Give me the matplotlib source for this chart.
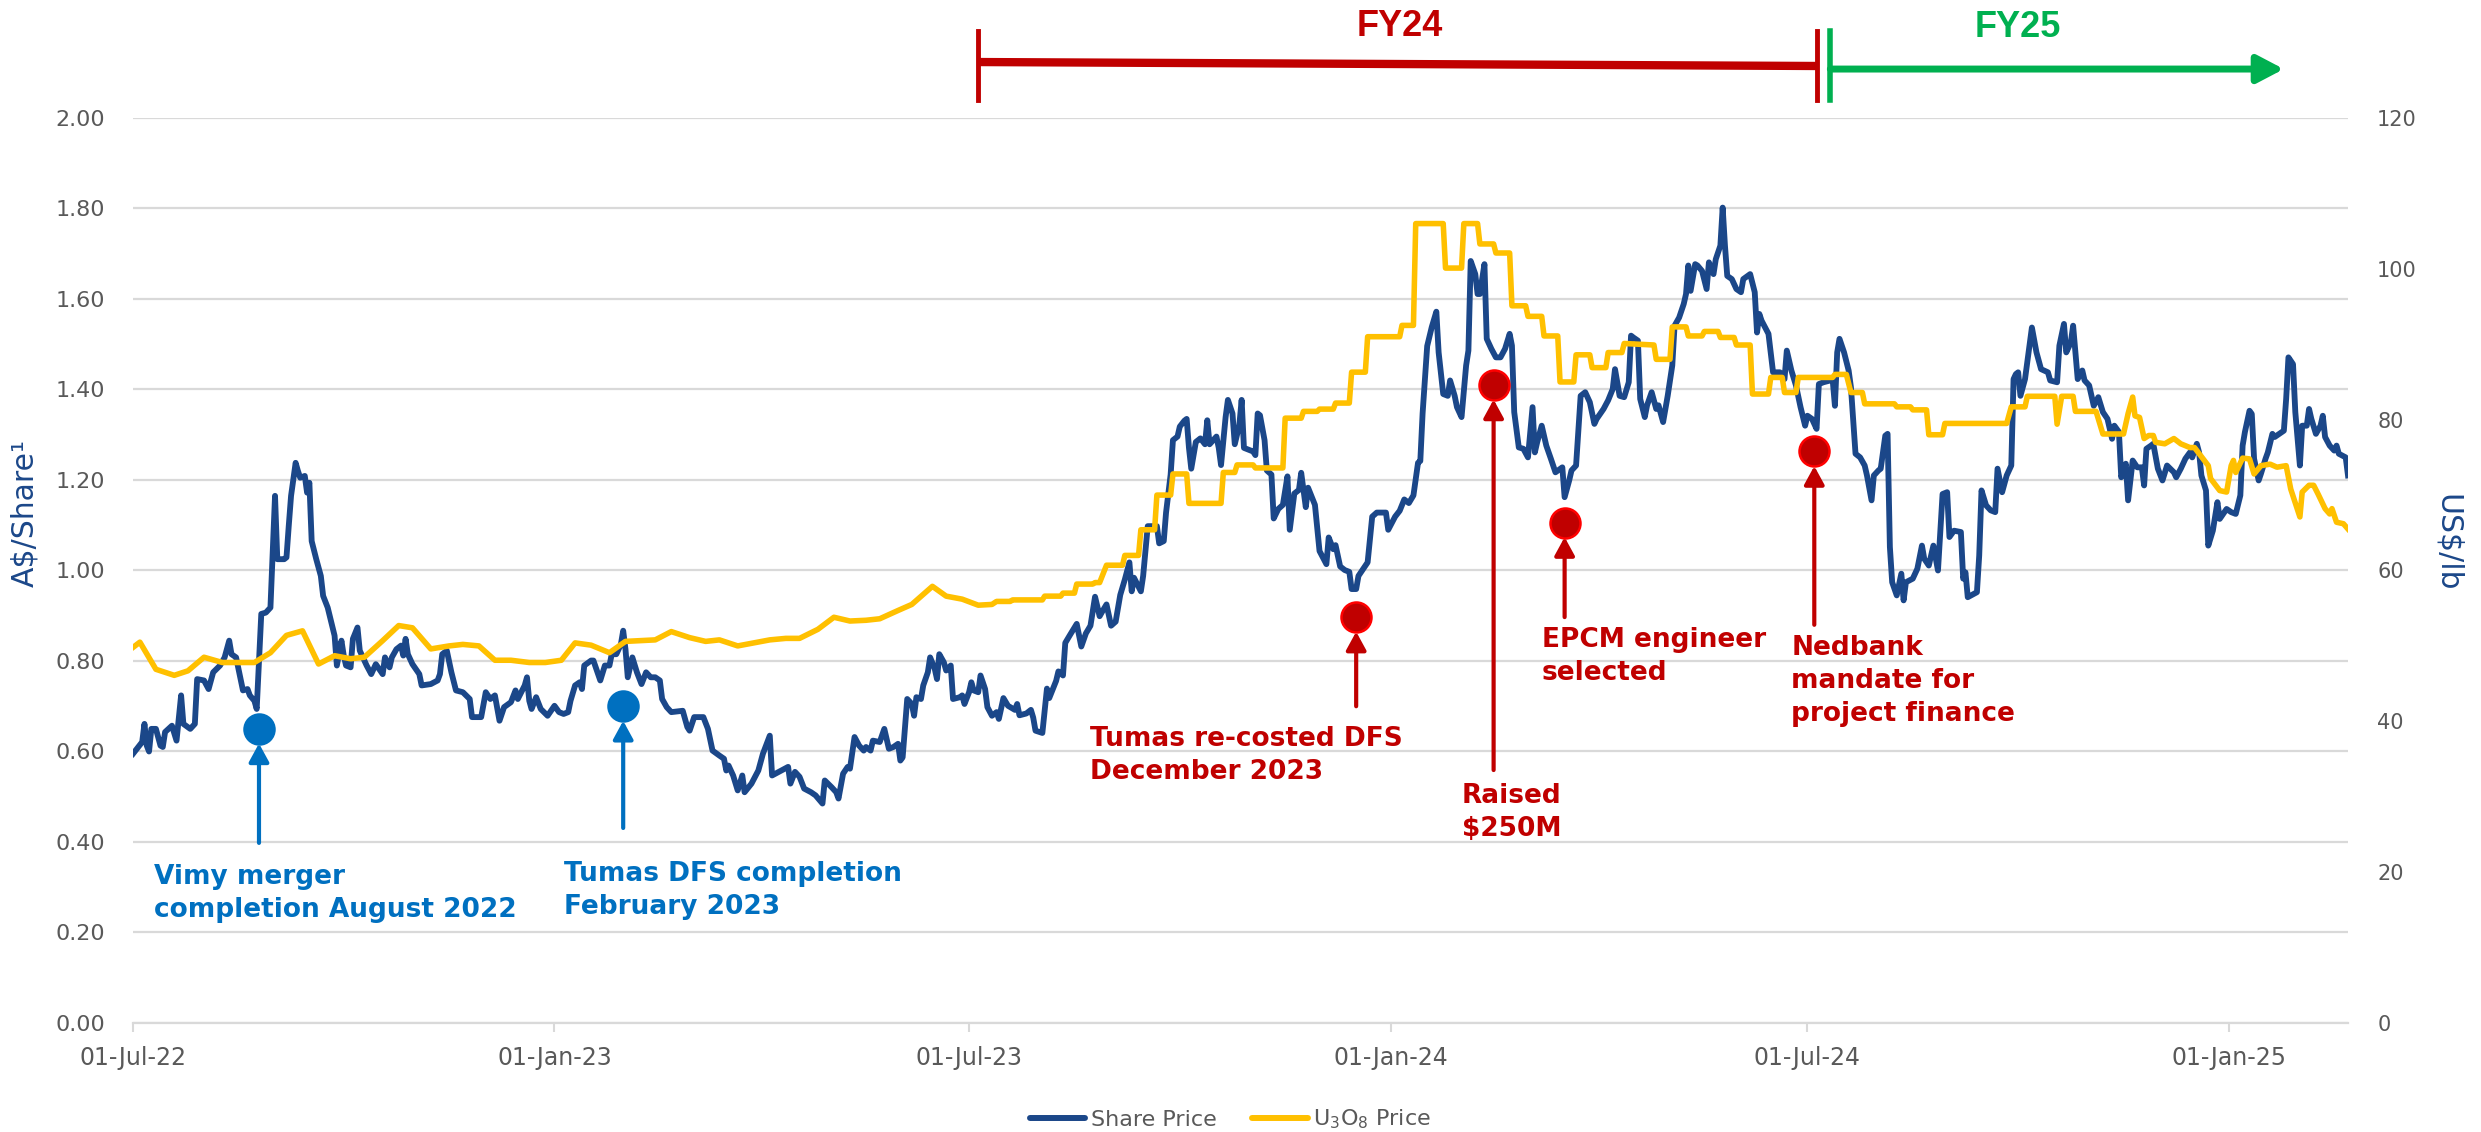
import numpy as np
import pandas as pd
import matplotlib
matplotlib.use("Agg")
import matplotlib.pyplot as plt
import matplotlib.dates as mdates
import matplotlib.transforms as mtransforms
from matplotlib.lines import Line2D

# ---------------- data ----------------
BASE_DATE = "2022-07-01"   # day 0

share_day = [0, 4, 5, 6, 7, 8, 10, 12, 13, 14, 17, 19, 21, 22, 25, 27, 28, 31, 33, 35, 38, 40, 42, 43, 45, 47, 48, 50, 51, 53, 54,
             56, 58, 60, 62, 63, 66, 67, 68, 69, 71, 72, 73, 75, 76, 77, 78, 80, 82, 83, 85, 88, 89, 91, 92, 93, 95, 96, 98, 99,
             101, 102, 104, 106, 109, 110, 112, 113, 115, 117, 118, 119, 120, 122, 125, 126, 130, 133, 134, 135, 137, 139, 141,
             144, 147, 148, 152, 154, 156, 158, 160, 162, 165, 167, 168, 171, 172, 173, 174, 176, 178, 181, 184, 186,
             188, 190, 191, 193, 195, 196, 197, 200, 201, 204, 206, 208, 209, 211, 213, 214, 215, 216, 218, 220, 222, 224, 226,
             228, 230, 231, 233, 235, 240, 242, 243, 245, 249, 251, 253, 256, 258, 259, 260, 262, 264, 266, 267, 270, 273, 275,
             278, 279, 283, 286, 287, 289, 291, 293, 296, 298, 301, 302, 305, 307, 308, 310, 312, 313, 315, 317, 319, 320, 322,
             323, 326, 328, 330, 332, 334, 335, 336, 338, 340, 341, 342, 344, 345, 347, 348, 350, 351, 352, 354, 355, 357, 358,
             361, 362, 363, 365, 366, 367, 369, 370, 372, 373, 375, 377, 378,
             380, 382, 385, 386, 387, 390, 392, 393, 394, 397, 399, 400, 403, 404, 406, 407, 409, 412, 414, 416, 418, 420, 422,
             423, 425, 427, 429, 431, 433, 435, 436, 437, 440, 441, 443, 447, 448, 450, 451, 453, 454, 456, 457, 459, 460, 461,
             462, 464, 466, 468, 469, 470, 473, 474, 475, 477, 478, 480, 481, 483, 484, 485, 487, 489, 490, 491, 492, 494, 495,
             497, 498, 500, 502, 504, 505, 507, 508, 509, 510, 512, 513, 516, 518, 521, 522, 524, 525, 527, 529, 531, 532, 534,
             535, 539, 541, 543, 547, 548, 551, 553, 555, 557, 559, 561, 562, 563, 565, 567, 569,
             570, 572, 574, 575, 577, 578, 580, 582, 583, 584, 586, 587, 588, 590, 591, 593, 595, 597, 599, 601, 602, 603, 605,
             607, 609, 611, 612, 613, 615, 617, 619, 621, 624, 625, 627, 628, 630, 632, 634, 636, 638, 639, 642, 644, 646, 647,
             648, 649, 651, 653, 654, 655, 657, 658, 660, 661, 663, 665, 666, 668, 670, 672, 673, 675, 677, 678, 679, 680, 682,
             683, 685, 687, 688, 690, 691, 693, 694, 695, 696, 698, 700, 702, 703, 706, 708, 709, 710, 711, 714, 716, 719, 721,
             722, 724, 726, 728, 730, 731, 733, 735, 736, 738, 741, 742, 743, 744, 745, 747, 749, 750, 752, 754, 756, 757, 759,
             760, 762, 763,
             765, 766, 767, 768, 770, 772, 773, 774, 777, 779, 781, 782, 784, 786, 788, 790, 792, 793, 795, 798, 799, 800, 801,
             805, 806, 807, 809, 811, 813, 814, 816, 818, 820, 821, 822, 823, 824, 826, 829, 831, 833, 836, 837, 840, 841, 843,
             844, 846, 847, 849, 851, 852, 854, 856, 858, 860, 862, 864, 865, 867, 868, 870, 871, 873, 875, 877, 878, 879, 881,
             882, 884, 886, 888, 891, 892, 894, 896, 898, 899, 901, 902, 903, 905, 906, 908, 910, 911, 914, 916, 918, 920, 921,
             922, 924, 925, 926, 928, 929, 931, 932, 934, 935, 937, 939, 940, 941, 943, 944, 946, 947, 949, 950, 951, 953, 955,
             956, 957, 959, 961, 962, 963, 966, 967]

share_price = [0.595, 0.621, 0.661, 0.613, 0.600, 0.650, 0.650, 0.613, 0.610, 0.643, 0.657, 0.624, 0.724, 0.661, 0.650, 0.661,
               0.760, 0.757, 0.738, 0.775, 0.790, 0.808, 0.845, 0.815, 0.808, 0.760, 0.735, 0.738, 0.724, 0.712, 0.694,
               0.904, 0.907, 0.918, 1.165, 1.025, 1.025, 1.029, 1.099, 1.165, 1.238, 1.220, 1.205, 1.209, 1.172, 1.194, 1.065,
               1.025, 0.988, 0.944, 0.918, 0.856, 0.790, 0.845, 0.812, 0.790, 0.786, 0.849, 0.874, 0.823,
               0.801, 0.790, 0.771, 0.793, 0.771, 0.808, 0.786, 0.808, 0.826, 0.834, 0.812, 0.849, 0.815, 0.793, 0.771, 0.746,
               0.749, 0.757, 0.771, 0.815, 0.823, 0.775, 0.735,
               0.731, 0.716, 0.676, 0.676, 0.731, 0.716, 0.724, 0.668, 0.698, 0.709, 0.735, 0.716, 0.746, 0.764, 0.712, 0.694,
               0.720, 0.694, 0.679, 0.701, 0.687,
               0.683, 0.687, 0.712, 0.746, 0.753, 0.738, 0.790, 0.801, 0.801, 0.757, 0.790, 0.790, 0.815, 0.815, 0.837, 0.867,
               0.826, 0.764, 0.808, 0.775, 0.749, 0.775, 0.764,
               0.764, 0.757, 0.716, 0.698, 0.687, 0.690, 0.654, 0.646, 0.676, 0.676, 0.650, 0.602, 0.591, 0.584, 0.558, 0.569,
               0.547, 0.514, 0.547, 0.510, 0.529, 0.558, 0.595,
               0.635, 0.547, 0.558, 0.566, 0.529, 0.555, 0.544, 0.518, 0.510, 0.503, 0.485, 0.536, 0.521, 0.510, 0.496, 0.551,
               0.566, 0.562, 0.632, 0.613, 0.602, 0.610, 0.602,
               0.624, 0.621, 0.650, 0.606, 0.610, 0.617, 0.580, 0.587, 0.716, 0.705, 0.679, 0.720, 0.716, 0.746, 0.775, 0.808,
               0.783, 0.760, 0.815, 0.797, 0.779, 0.790, 0.716,
               0.720, 0.724, 0.705, 0.731, 0.753, 0.735, 0.731, 0.768, 0.738, 0.698, 0.679, 0.687, 0.672,
               0.718, 0.701, 0.692, 0.705, 0.680, 0.684, 0.692, 0.675, 0.646, 0.641, 0.739, 0.718, 0.756, 0.777, 0.768, 0.840,
               0.857, 0.882, 0.832, 0.861, 0.878, 0.942, 0.899,
               0.908, 0.925, 0.878, 0.887, 0.946, 0.980, 1.018, 0.954, 0.984, 0.954, 0.988, 1.098, 1.098, 1.060, 1.065, 1.128,
               1.212, 1.288, 1.296, 1.318, 1.331, 1.335, 1.271,
               1.225, 1.284, 1.292, 1.279, 1.332, 1.279, 1.296, 1.271, 1.233, 1.339, 1.377, 1.347, 1.279, 1.322, 1.377, 1.271,
               1.267, 1.263, 1.255, 1.347, 1.343, 1.288, 1.221,
               1.212, 1.115, 1.136, 1.145, 1.208, 1.090, 1.170, 1.174, 1.178, 1.216, 1.140, 1.183, 1.145, 1.043, 1.014, 1.073,
               1.047, 1.056, 1.009, 1.001, 0.997, 0.959, 0.959,
               0.988, 1.018, 1.119, 1.128, 1.128, 1.090, 1.119, 1.132, 1.157, 1.149, 1.166, 1.238, 1.242, 1.347, 1.496, 1.538,
               1.572,
               1.482, 1.390, 1.386, 1.420, 1.386, 1.361, 1.339, 1.453, 1.486, 1.684, 1.655, 1.611, 1.611, 1.677, 1.512, 1.490,
               1.471, 1.471, 1.490, 1.523, 1.497, 1.350, 1.272,
               1.269, 1.250, 1.361, 1.261, 1.283, 1.320, 1.276, 1.247, 1.217, 1.228, 1.162, 1.199, 1.221, 1.232, 1.386, 1.394,
               1.372, 1.324, 1.335, 1.357, 1.376, 1.401, 1.445,
               1.416, 1.386, 1.383, 1.416, 1.519, 1.515, 1.508, 1.379, 1.339, 1.365, 1.394, 1.357, 1.365, 1.328, 1.386, 1.453,
               1.541, 1.559, 1.589, 1.611, 1.674, 1.618, 1.677,
               1.674, 1.662, 1.622, 1.681, 1.655, 1.688, 1.718, 1.802, 1.718, 1.651, 1.644, 1.622, 1.615, 1.644, 1.655, 1.615,
               1.526, 1.567, 1.552, 1.523, 1.438, 1.438, 1.423,
               1.486, 1.442, 1.409, 1.361, 1.320, 1.342, 1.335, 1.313, 1.412, 1.416, 1.420, 1.423, 1.364, 1.482, 1.512, 1.482,
               1.442, 1.405, 1.258, 1.250, 1.232, 1.210, 1.155,
               1.210, 1.221, 1.225,
               1.298, 1.302, 1.052, 0.974, 0.945, 0.993, 0.934, 0.974, 0.982, 1.004, 1.055, 1.026, 1.011, 1.055, 1.000, 1.169,
               1.173, 1.074, 1.088, 1.085, 0.982, 0.996, 0.941,
               0.952, 1.033, 1.177, 1.144, 1.133, 1.129, 1.225, 1.173, 1.210, 1.232, 1.423, 1.434, 1.438, 1.386, 1.423, 1.537,
               1.482, 1.445, 1.438, 1.420, 1.416, 1.497, 1.545,
               1.482, 1.504, 1.541, 1.423, 1.442, 1.420, 1.409, 1.364, 1.383, 1.350, 1.335, 1.291, 1.320, 1.306, 1.206, 1.236,
               1.155, 1.243, 1.228, 1.228, 1.188, 1.269, 1.276,
               1.280, 1.225, 1.199, 1.232, 1.217, 1.206, 1.225, 1.247, 1.261, 1.250, 1.280, 1.261, 1.210, 1.177, 1.055, 1.088,
               1.151, 1.114, 1.136, 1.129, 1.125, 1.166, 1.276,
               1.306, 1.353, 1.346, 1.247, 1.199, 1.214, 1.247, 1.261, 1.302, 1.295, 1.302, 1.309, 1.379, 1.471, 1.456, 1.350,
               1.232, 1.320, 1.320, 1.357, 1.335, 1.302, 1.320,
               1.342, 1.295, 1.276, 1.265, 1.276, 1.258, 1.250, 1.210]

u3o8_day = [0, 3, 10, 18, 24, 31, 39, 53, 60, 67, 74, 81, 88, 95, 101, 109, 116, 122, 130, 138, 144, 151, 158, 165, 173, 180,
            187, 193, 200, 208, 215, 228, 235, 243, 250, 256, 264, 271, 278, 285, 291, 299, 306, 313, 320, 326, 334, 340, 349,
            355, 362, 369, 375, 377, 383, 384, 397, 398, 405, 406, 411, 412, 419, 420, 422, 425, 432, 433, 439, 440, 446, 447,
            453, 454, 460, 461, 475, 476, 481, 482, 489, 490, 502, 503, 510, 511, 517, 518, 524, 525, 531, 532, 538, 539, 553,
            554, 559, 560, 572, 573, 580, 581, 587, 588, 594, 595, 601, 602, 608, 609, 615, 616, 622, 623, 629, 630, 636, 637,
            643, 644, 650, 651, 664, 665, 671, 672, 678, 679, 685, 686, 692, 693, 699, 700, 706, 707, 714, 715, 720, 721, 726,
            727, 742, 743, 748, 750, 755, 756, 769, 770, 776, 777, 783, 784, 790, 791, 818, 820, 826, 827, 839, 840, 842, 847,
            848, 857, 860, 869, 871, 873, 874, 876, 878, 880, 882, 883, 887, 891, 894, 898, 900, 906, 907, 911, 914, 916, 917,
            918, 921, 924, 926, 929, 933, 936, 940, 942, 946, 947, 950, 952, 954, 957, 959, 960, 962, 965, 967]

u3o8_price = [49.8, 50.5, 46.9, 46.1, 46.7, 48.5, 47.8, 47.8, 49.1, 51.4, 52.0, 47.6, 48.7, 48.3, 48.5, 50.7, 52.7, 52.4, 49.6,
              50.0, 50.2, 50.0, 48.1, 48.1, 47.8, 47.8,
              48.1, 50.4, 50.1, 49.1, 50.6, 50.8, 51.9, 51.1, 50.6, 50.8, 50.0, 50.4, 50.8, 51.0, 51.0, 52.2, 53.8, 53.3, 53.4,
              53.6, 54.7, 55.5, 57.9,
              56.6, 56.2, 55.4, 55.5, 55.9, 55.9, 56.1, 56.1, 56.6, 56.6, 57.0, 57.0, 58.2, 58.2, 58.4, 58.4, 60.7, 60.7, 62.0,
              62.0, 65.4, 65.4, 70.0,
              70.0, 72.8, 72.8, 68.9, 68.9, 73.0, 73.0, 74.0, 74.0, 73.6, 73.6, 80.2, 80.2, 81.1, 81.1, 81.4, 81.4, 82.2, 82.2,
              86.3, 86.3, 91.0, 91.0,
              92.5, 92.5, 106.0, 106.0, 100.1, 100.1, 106.0, 106.0, 103.3, 103.3, 102.1, 102.1, 95.1, 95.1, 93.7, 93.7, 91.1,
              91.1, 85.0, 85.0, 88.6, 88.6, 86.9,
              86.9, 88.9, 88.9, 90.1, 89.9, 88.0, 88.0, 92.3, 92.3, 91.1, 91.1, 91.7, 91.7, 90.9, 90.9, 89.9, 89.9, 83.4, 83.4,
              85.6, 85.6, 83.6, 83.6,
              85.6, 85.6, 86.0, 86.0, 83.6, 83.6, 82.1, 82.1, 81.7, 81.7, 81.3, 81.3, 78.0, 78.0, 79.5, 79.5, 81.7, 81.7, 83.1,
              83.1, 79.4, 83.1, 83.1,
              81.1, 81.1, 78.1, 78.1, 80.8, 83.0, 80.5, 80.3, 77.5, 77.9, 77.9, 77.0, 76.8, 77.5, 76.8, 76.3, 76.3, 73.9, 72.2,
              70.6, 70.4, 73.9, 74.6,
              73.0, 74.9, 74.8, 72.8, 73.9, 74.1, 73.7, 73.9, 70.8, 67.1, 70.4, 71.3, 71.3, 70.1, 68.2, 67.5, 68.2, 66.4, 66.2,
              65.5]

x_end_day = 967
x_tick_dates = ["2022-07-01", "2023-01-01", "2023-07-01", "2024-01-01", "2024-07-01", "2025-01-01"]
left_ticks = [0.0, 0.2, 0.4, 0.6, 0.8, 1.0, 1.2, 1.4, 1.6, 1.8, 2.0]
right_ticks = [0, 20, 40, 60, 80, 100, 120]

event_day = [55, 214, 534, 594, 625, 734]
event_value = [0.65, 0.70, 0.897, 1.41, 1.106, 1.263]
event_label = ["Vimy merger\ncompletion August 2022",
               "Tumas DFS completion\nFebruary 2023",
               "Tumas re-costed DFS\nDecember 2023",
               "Raised\n\\$250M",
               "EPCM engineer\nselected",
               "Nedbank\nmandate for\nproject finance"]
event_kind = ["blue", "blue", "red", "red", "red", "red"]

fy24_start_day, fy24_end_day = 369, 735
fy25_start_day, fy25_arrow_end_day = 741, 939

# ---------------- layout / style ----------------
text_xy = [(9, 0.287), (188, 0.292), (418, 0.592), (580, 0.466), (615, 0.811), (724, 0.756)]
arrow_tail = [0.398, 0.431, 0.70, 0.559, 0.897, 0.88]

NAVY = "#1B4789"
GOLD = "#FFC000"
BLUE = "#0070C0"
RED = "#C00000"
RED_EDGE = "#FF0000"
GREEN = "#00B050"
GRID = "#D9D9D9"
TICK = "#595959"

plt.rcParams["font.family"] = ["DejaVu Sans"]

base = pd.Timestamp(BASE_DATE)


def to_dates(days):
    return base + pd.to_timedelta(np.asarray(days), unit="D")


def to_num(day):
    return mdates.date2num(base + pd.Timedelta(days=day))


fig = plt.figure(figsize=(24.81, 11.32), dpi=100)
ax = fig.add_axes([0.05361, 0.09629, 0.89278, 0.79947])
ax2 = ax.twinx()

ax.plot(to_dates(share_day), share_price, color=NAVY, lw=4.2, solid_joinstyle="round", zorder=3)
ax2.plot(to_dates(u3o8_day), u3o8_price, color=GOLD, lw=4.0, solid_joinstyle="round", zorder=3)

ax.set_xlim(to_dates([0])[0], to_dates([x_end_day])[0])
ax.set_ylim(0, 2.0)
ax2.set_ylim(0, 120)

ax.set_axisbelow(True)
ax.set_yticks(left_ticks)
ax.set_yticklabels([f"{v:.2f}" for v in left_ticks])
ax.grid(axis="y", color=GRID, lw=1.6)
ax.tick_params(axis="y", length=0, pad=20, labelsize=16, labelcolor=TICK)
ax2.set_yticks(right_ticks)
ax2.tick_params(axis="y", length=0, pad=21, labelsize=15, labelcolor=TICK)

ax.set_xticks(pd.to_datetime(x_tick_dates))
ax.xaxis.set_major_formatter(mdates.DateFormatter("%d-%b-%y"))
ax.tick_params(axis="x", length=6.5, width=1.5, color=GRID, pad=10, labelsize=17, labelcolor=TICK)

for s in ["top", "left", "right"]:
    ax.spines[s].set_visible(False)
ax.spines["bottom"].set_color(GRID)
ax.spines["bottom"].set_linewidth(1.6)
for s in ax2.spines.values():
    s.set_visible(False)

ax.set_ylabel("A\\$/Share¹", color=NAVY, fontsize=21.5, va="center", ha="center")
ax.yaxis.set_label_coords(-0.0488, 0.5635)
ax2.set_ylabel("US\\$/lb", color=NAVY, fontsize=21.5, rotation=270, va="center", ha="center")
ax2.yaxis.set_label_coords(1.0447, 0.531)

# ---------------- events ----------------
for d, v, lab, kind, (tx, ty), tail in zip(event_day, event_value, event_label, event_kind, text_xy, arrow_tail):
    col = BLUE if kind == "blue" else RED
    edge = BLUE if kind == "blue" else RED_EDGE
    xn = to_num(d)
    ax2.annotate("", xy=(xn, v), xycoords=ax.transData, xytext=(xn, tail), textcoords=ax.transData,
                 arrowprops=dict(arrowstyle="-|>,head_length=0.55,head_width=0.3", mutation_scale=20,
                                 color=col, lw=3.0, shrinkA=0, shrinkB=10.5), zorder=6)
    ax2.plot([xn], [v], "o", ms=21.6, mfc=col, mec=edge, mew=1.8, transform=ax.transData, zorder=7)
    ax2.text(to_num(tx), ty, lab, transform=ax.transData, ha="left", va="center", color=col,
             fontsize=19, fontweight="bold", linespacing=1.35, zorder=7)

# ---------------- FY markers ----------------
blend = mtransforms.blended_transform_factory(ax.transData, fig.transFigure)
v_lo, v_hi = 0.9117, 0.9726
fig.add_artist(Line2D([to_num(fy24_start_day)] * 2, [v_lo, v_hi], transform=blend, color=RED, lw=3.5))
fig.add_artist(Line2D([to_num(fy24_end_day)] * 2, [v_lo, v_hi], transform=blend, color=RED, lw=3.5))
fig.add_artist(Line2D([to_num(fy24_start_day), to_num(fy24_end_day)], [0.9452, 0.9417], transform=blend,
                      color=RED, lw=6, solid_capstyle="butt"))
fig.add_artist(Line2D([to_num(fy25_start_day)] * 2, [v_lo, v_hi], transform=blend, color=GREEN, lw=4))
ax.annotate("", xy=(to_num(fy25_arrow_end_day), 0.939), xycoords=blend,
            xytext=(to_num(fy25_start_day), 0.939), textcoords=blend,
            arrowprops=dict(arrowstyle="-|>,head_length=0.8,head_width=0.42", mutation_scale=20,
                            color=GREEN, lw=5, shrinkA=0, shrinkB=0), annotation_clip=False)
ax.text(to_num(553), 0.977, "FY24", transform=blend, ha="center", va="center", color=RED,
        fontsize=26, fontweight="bold", family=["Liberation Sans", "DejaVu Sans"])
ax.text(to_num(823), 0.9757, "FY25", transform=blend, ha="center", va="center", color=GREEN,
        fontsize=26, fontweight="bold", family=["Liberation Sans", "DejaVu Sans"])

# ---------------- legend ----------------
handles = [Line2D([0], [0], color=NAVY, lw=4.3, solid_capstyle="round"),
           Line2D([0], [0], color=GOLD, lw=4.3, solid_capstyle="round")]
fig.legend(handles, ["Share Price", "U$_3$O$_8$ Price"], loc="lower center", bbox_to_anchor=(0.496, -0.011),
           ncol=2, frameon=False, fontsize=16, labelcolor=TICK, handlelength=2.5, handletextpad=0.25,
           columnspacing=1.6, borderpad=0.1)

fig.savefig("out.png", dpi=100)
